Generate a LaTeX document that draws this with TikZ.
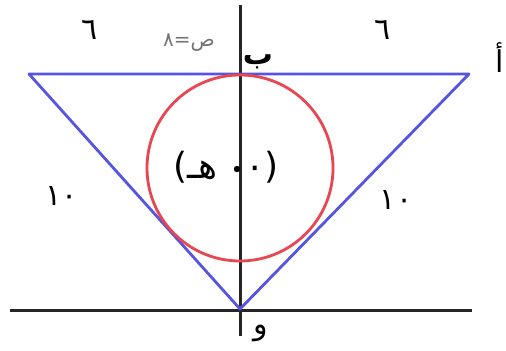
\documentclass[tikz,border=0pt]{standalone}
\usepackage{fontspec}
\newfontfamily\arabicfont[Script=Arabic]{DejaVu Sans}
\TeXXeTstate=1
\usetikzlibrary{positioning}
\definecolor{triblue}{RGB}{85,85,225}
\definecolor{circred}{RGB}{232,70,80}
\newcommand{\artxt}[1]{{\arabicfont\beginR #1\endR}}

\begin{document}
\begin{tikzpicture}[x=0.5pt,y=-0.5pt]
  \useasboundingbox (0,0) rectangle (506,351);
  \coordinate (ytop) at (240,5);
  \coordinate (ybot) at (240,336);
  \coordinate (xleft) at (10,310);
  \coordinate (xright) at (472,310);
  \coordinate (left) at (29,74);
  \coordinate (right) at (469,74);
  \coordinate (origin) at (240,309);
  \coordinate (centre) at (240,168);
  \draw[black!85,line width=1.5pt] (ytop) -- (ybot);
  \draw[black!85,line width=1.5pt] (xleft) -- (xright);
  \draw[triblue,line width=1.4pt,line join=round] (left) -- (right) -- (origin) -- cycle;
  \draw[circred,line width=1.4pt] (centre) circle[radius=46.5pt];
  \node[font=\fontsize{15}{18}\selectfont] (sixl) at (90,30) {\artxt{٦}};
  \node[font=\fontsize{15}{18}\selectfont] (sixr) at (383,30) {\artxt{٦}};
  \node[font=\fontsize{15}{18}\selectfont] (tenl) at (62,196) {\artxt{١٠}};
  \node[font=\fontsize{15}{18}\selectfont] (tenr) at (396,200) {\artxt{١٠}};
  \node[font=\fontsize{10}{12}\selectfont,text=black!55] (yeq) at (189,43) {\artxt{ص=٨}};
  \node[font=\fontsize{15}{18}\selectfont\bfseries] (pb) at (258,62) {\artxt{ب}};
  \node[font=\fontsize{15}{18}\selectfont,anchor=east,inner sep=1pt] (pa) at (506,58) {\artxt{أ}};
  \node[font=\fontsize{15}{18}\selectfont] (po) at (261,333) {\artxt{و}};
  \fill (237,169) circle[radius=1.6pt];
  \node[font=\fontsize{18}{22}\selectfont] (cpt) at (226,167) {\artxt{(٠\hspace{14pt}هـ)}};
\end{tikzpicture}
\end{document}
